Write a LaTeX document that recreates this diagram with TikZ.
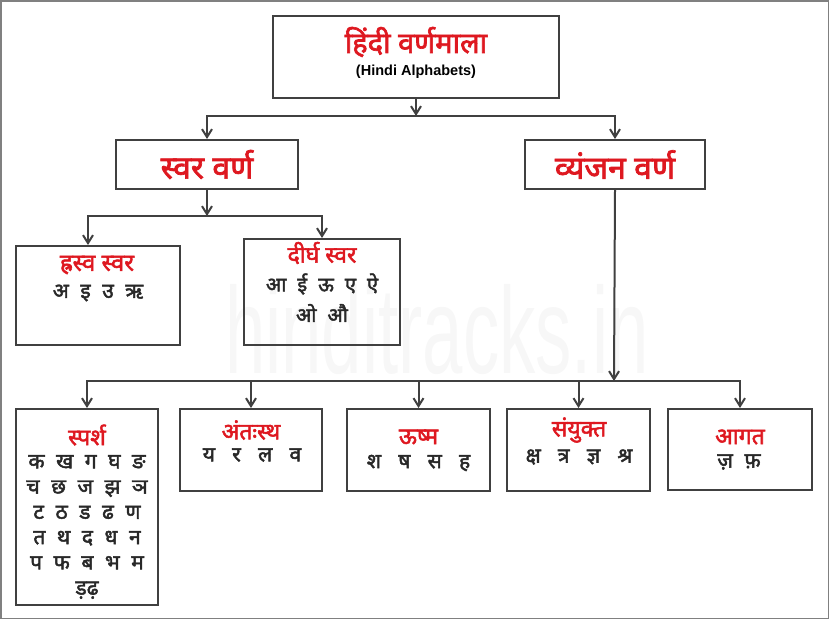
\documentclass[tikz,border=0pt]{standalone}
\usepackage{fontspec}
\setmainfont{Liberation Sans}
\newfontfamily\hindi[Script=Devanagari,AutoFakeBold=2.2]{Noto Sans}
\usetikzlibrary{arrows.meta,positioning}

\definecolor{titlered}{RGB}{222,24,32}
\definecolor{linegray}{RGB}{64,64,64}
\definecolor{lettergray}{RGB}{40,40,40}

\newcommand\gp{\hspace{0.55em}}
\newcommand\wgp{\hspace{0.82em}}

\tikzset{
  box/.style={draw=linegray, line width=2pt, rectangle, inner sep=0pt},
  bighead/.style={font=\hindi\bfseries\fontsize{32}{36}\selectfont, text=titlered},
  head/.style={font=\hindi\bfseries\fontsize{23}{26}\selectfont, text=titlered, inner sep=0pt},
  letters/.style={font=\hindi\bfseries\fontsize{21}{25.3}\selectfont, text=lettergray, align=center, inner sep=0pt},
  smallrow/.style={letters, font=\hindi\bfseries\fontsize{20}{25}\selectfont},
}

\begin{document}
\begin{tikzpicture}[x=1pt,y=-1pt,>={Straight Barb[length=8pt,width=10pt]}]
   \useasboundingbox (0,0) rectangle (829,619);
   \draw[gray, line width=1.5pt] (0.75,0.75) rectangle (828.25,618.25);
   % watermark
   \node[anchor=base west, inner sep=0pt, text=black!3, xscale=0.59,
         font=\fontsize{123}{123}\selectfont] (mark) at (225,373) {hinditracks.in};

   % top levels
   \node[box, minimum width=286, minimum height=82] (alpha) at (416,57) {};
   \node[inner sep=0pt, text=titlered, font=\hindi\bfseries\fontsize{29}{32}\selectfont] (alphaH) at (416,42) {हिंदी वर्णमाला};
   \node[inner sep=0pt, font=\bfseries\fontsize{14.5}{16}\selectfont] (alphaE) at (416,72) {(Hindi Alphabets)};
   \node[box, bighead, minimum width=182, minimum height=49] (svar) at (207,164.5) {स्वर वर्ण};
   \node[box, bighead, minimum width=180, minimum height=49] (vyan) at (615,164.5) {व्यंजन वर्ण};

   % vowels
   \node[box, minimum width=164, minimum height=99, anchor=north] (hrasva) at (98,245) {};
   \node[box, minimum width=156, minimum height=106, anchor=north] (dirgha) at (322,238) {};
   \node[head, font=\hindi\bfseries\fontsize{24}{26}\selectfont] (hrasvaH) at (97,265) {ह्रस्व स्वर};
   \node[letters] (hrasvaL) at (98,293) {अ\gp इ\gp उ\gp ऋ};
   \node[head] (dirghaH) at (322,253) {दीर्घ स्वर};
   \node[smallrow] (dirghaL) at (322,284) {आ\gp ई\gp ऊ\gp ए\gp ऐ};
   \node[smallrow] (dirghaM) at (322,313) {ओ\gp औ};

   % consonants
   \node[box, minimum width=142, minimum height=196, anchor=north] (sparsh) at (87,408) {};
   \node[box, minimum width=142, minimum height=82, anchor=north] (antah) at (251,408) {};
   \node[box, minimum width=143, minimum height=82, anchor=north] (ushm) at (418.5,408) {};
   \node[box, minimum width=143, minimum height=82, anchor=north] (sanyukt) at (578.5,408) {};
   \node[box, minimum width=144, minimum height=81, anchor=north] (aagat) at (740,408) {};

   \node[head] (sparshH) at (87,435) {स्पर्श};
   \node[letters] (sparshL) at (87,527)
        {क\gp ख\gp ग\gp घ\gp ङ\\च\gp छ\gp ज\gp झ\gp ञ\\ट\gp ठ\gp ड\gp ढ\gp ण\\त\gp थ\gp द\gp ध\gp न\\प\gp फ\gp ब\gp भ\gp म\\ड़ढ़};
   \node[head] (antahH) at (251,430) {अंतःस्थ};
   \node[letters] (antahL) at (252,455) {य\wgp र\wgp ल\wgp व};
   \node[head] (ushmH) at (418.5,437) {ऊष्म};
   \node[letters] (ushmL) at (418.5,463) {श\wgp ष\wgp स\wgp ह};
   \node[head] (sanyuktH) at (579,430) {संयुक्त};
   \node[letters] (sanyuktL) at (579,457) {क्ष\wgp त्र\wgp ज्ञ\wgp श्र};
   \node[head] (aagatH) at (740,437) {आगत};
   \node[letters] (aagatL) at (739,462) {ज़\gp फ़};

   % connectors
   \coordinate (busA) at (416,116);
   \coordinate (busB) at (207,216);
   \coordinate (busC) at (614,381);
   \begin{scope}[draw=linegray, line width=2pt]
    \draw[->] (alpha.south) -- (busA);
    \draw[->] (busA) -| (svar.north);
    \draw[->] (busA) -| (vyan.north);
    \draw[->] (svar.south) -- (busB);
    \draw[->] (busB) -| ([xshift=-10pt]hrasva.north);
    \draw[->] (busB) -| (dirgha.north);
    \draw[->] (vyan.south) -- (busC);
    \foreach \n in {sparsh,antah,ushm,sanyukt,aagat}
      \draw[->] (busC) -| (\n.north);
   \end{scope}
\end{tikzpicture}
\end{document}
